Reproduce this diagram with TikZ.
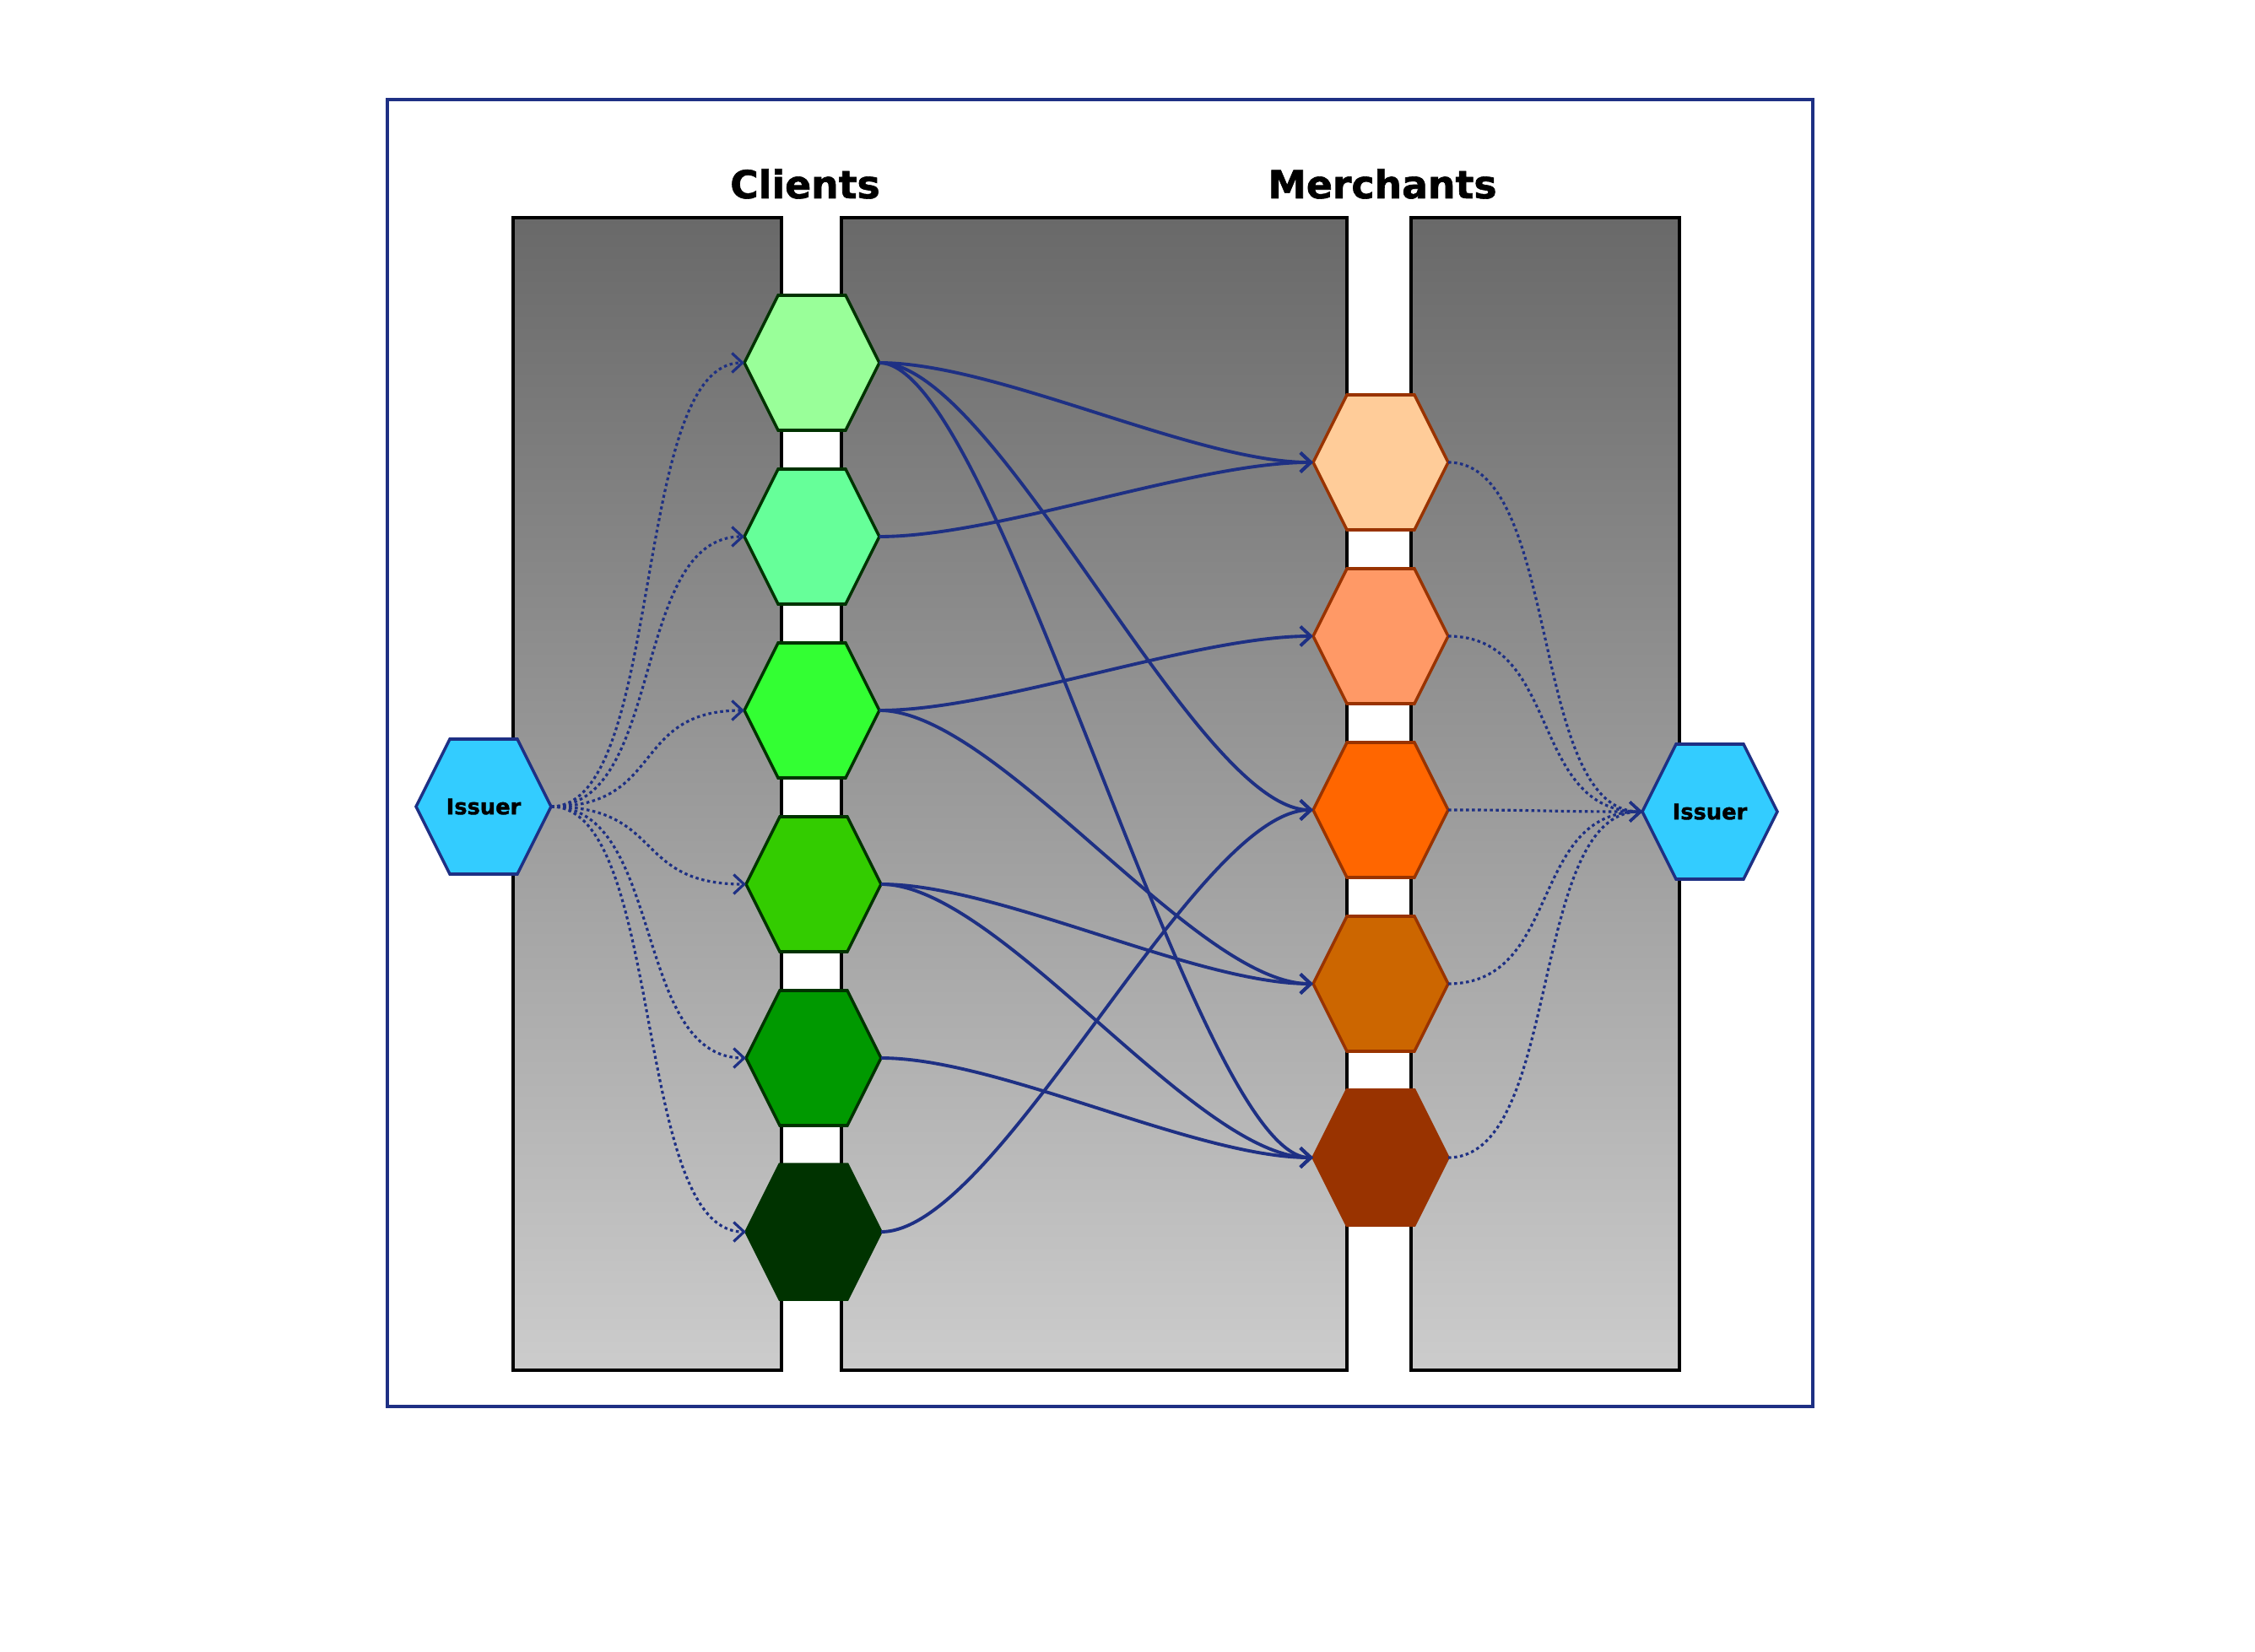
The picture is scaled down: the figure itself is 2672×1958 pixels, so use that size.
\documentclass[tikz,border=0pt]{standalone}
\usepackage{fontspec}
\setmainfont{DejaVu Sans}
\newfontfamily\heavyfont[FakeBold=1.4]{DejaVu Sans Bold}
\usetikzlibrary{arrows.meta}
\definecolor{navy}{RGB}{30,48,132}
\definecolor{paneltop}{RGB}{105,105,105}
\definecolor{panelbot}{RGB}{204,204,204}
\definecolor{cA}{HTML}{99FF99}
\definecolor{cB}{HTML}{66FF99}
\definecolor{cC}{HTML}{33FF33}
\definecolor{cD}{HTML}{33CC00}
\definecolor{cE}{HTML}{009900}
\definecolor{cF}{HTML}{003300}
\definecolor{mA}{HTML}{FFCC99}
\definecolor{mB}{HTML}{FF9966}
\definecolor{mC}{HTML}{FF6600}
\definecolor{mD}{HTML}{CC6600}
\definecolor{mE}{HTML}{993300}
\definecolor{issuerfill}{HTML}{33CCFF}
\tikzset{
  hexbox/.style={rectangle, inner sep=0pt, outer sep=0pt, minimum width=1.6cm, minimum height=1.6cm},
  hexline/.style={line width=1pt, line join=miter},
  link/.style={draw=navy, line width=1.1pt, -{Straight Barb[length=3.5pt,width=6.5pt]}},
  dotlink/.style={draw=navy, line width=0.9pt, dash pattern=on 1pt off 1pt, -{Straight Barb[length=3.5pt,width=6.5pt]}},
  panel/.style={draw=black, line width=1.15pt, top color=paneltop, bottom color=panelbot},
  frame/.style={draw=navy, line width=0.95pt},
  title/.style={font=\fontsize{13}{15}\selectfont\heavyfont, anchor=base, inner sep=0pt},
  issuertext/.style={font=\fontsize{7.3}{9}\selectfont\heavyfont},
}
\newcommand{\hexat}[6]{%
  \path[hexline, fill=#4, draw=#5] (#2-80,#3) -- (#2-40,#3-80) -- (#2+40,#3-80) -- (#2+80,#3) -- (#2+40,#3+80) -- (#2-40,#3+80) -- cycle;
  \node[hexbox, issuertext] (#1) at (#2,#3) {#6};
}
\begin{document}
\begin{tikzpicture}[x=0.01cm, y=-0.01cm]
\useasboundingbox (0,0) rectangle (2672,1958);
% outer frame
\draw[frame] (459,118) rectangle (2148,1667);
% panels
\path[panel] (608,258) rectangle (926,1624);
\path[panel] (997,258) rectangle (1596,1624);
\path[panel] (1672,258) rectangle (1990,1624);
% titles
\node[title] (tclients) at (954,235) {Clients};
\node[title] (tmerchants) at (1638,235) {Merchants};
% clients
\hexat{c1}{962}{430}{cA}{cF}{}
\hexat{c2}{962}{636}{cB}{cF}{}
\hexat{c3}{962}{842}{cC}{cF}{}
\hexat{c4}{964}{1048}{cD}{cF}{}
\hexat{c5}{964}{1254}{cE}{cF}{}
\hexat{c6}{964}{1460}{cF}{cF}{}
% merchants
\hexat{m1}{1636}{548}{mA}{mE}{}
\hexat{m2}{1636}{754}{mB}{mE}{}
\hexat{m3}{1636}{960}{mC}{mE}{}
\hexat{m4}{1636}{1166}{mD}{mE}{}
\hexat{m5}{1636}{1372}{mE}{mE}{}
% issuers
\hexat{iL}{573}{956}{issuerfill}{navy}{Issuer}
\hexat{iR}{2026}{962}{issuerfill}{navy}{Issuer}
% issuer -> clients
\foreach \c in {c1,c2,c3,c4,c5,c6}{
  \draw[dotlink] (iL.east) .. controls +(135,0) and +(-135,0) .. (\c.west);
}
% merchants -> issuer
\foreach \m in {m1,m2,m3,m4,m5}{
  \draw[dotlink] (\m.east) .. controls +(135,0) and +(-135,0) .. (iR.west);
}
% clients -> merchants
\foreach \a/\b in {c1/m1,c1/m3,c1/m5,c2/m1,c3/m2,c3/m4,c4/m4,c4/m5,c5/m5,c6/m3}{
  \draw[link] (\a.east) .. controls +(140,0) and +(-140,0) .. (\b.west);
}
\end{tikzpicture}
\end{document}
